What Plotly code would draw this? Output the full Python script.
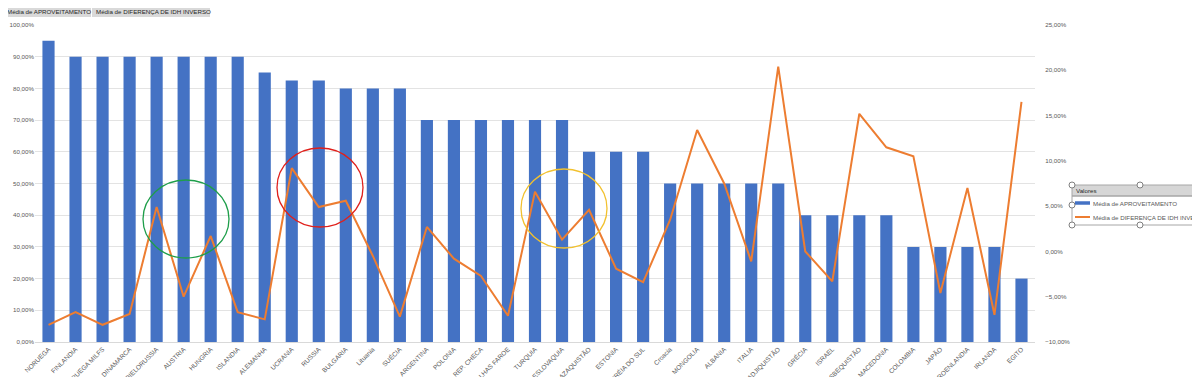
import plotly.graph_objects as go

categories = ["NORUEGA", "FINLANDIA", "RUEGA MILFS", "DINAMARCA", "BIELORUSSIA", "AUSTRIA",
              "HUNGRIA", "ISLANDIA", "ALEMANHA", "UCRANIA", "RUSSIA", "BULGARIA", "Lituania",
              "SUÉCIA", "ARGENTINA", "POLONIA", "REP. CHECA", "LHAS FAROE", "TURQUIA",
              "ESLOVAQUIA", "AZAQUISTÃO", "ESTONIA", "ORÉIA DO SUL", "Croacia", "MONGOLIA",
              "ALBANIA", "ITALIA", "ADJIQUISTÃO", "GRÉCIA", "ISRAEL", "SBEQUISTÃO",
              "MACEDONIA", "COLOMBIA", "JAPÃO", "ROENLANDIA", "IRLANDA", "EGITO"]

aproveitamento = [0.95, 0.90, 0.90, 0.90, 0.90, 0.90, 0.90, 0.90, 0.85, 0.825, 0.825, 0.80, 0.80,
                  0.80, 0.70, 0.70, 0.70, 0.70, 0.70, 0.70, 0.60, 0.60, 0.60, 0.50, 0.50,
                  0.50, 0.50, 0.50, 0.40, 0.40, 0.40, 0.40, 0.30, 0.30, 0.30, 0.30, 0.20]

dif_idh_inverso = [-0.081, -0.067, -0.081, -0.069, 0.049, -0.050, 0.017, -0.067, -0.075, 0.092,
                   0.049, 0.056, -0.005, -0.072, 0.027, -0.008, -0.027, -0.071, 0.066, 0.013,
                   0.046, -0.019, -0.034, 0.035, 0.134, 0.075, -0.011, 0.204, 0.000, -0.033,
                   0.152, 0.115, 0.105, -0.046, 0.070, -0.070, 0.165]

series_names = ["Média de APROVEITAMENTO", "Média de DIFERENÇA DE IDH INVERSO"]
legend_title = "Valores"

left_ticks = [i / 10 for i in range(11)]
right_ticks = [-0.10, -0.05, 0.0, 0.05, 0.10, 0.15, 0.20, 0.25]

# page body has an 8px margin: work in window pixels, figure is offset by OFF
OFF = 8
W, H = 1200 - OFF, 377 - OFF
L, R, T, B = 35, 1035, 25, 342   # plot area in window pixels


def px(x):
    return (x - L) / (R - L)


def py(y):
    return (B - y) / (B - T)


FONT = "Liberation Sans"
GREY_TXT = "#595959"
BLUE = "#4472C4"
ORANGE = "#ED7D31"
SMALL = 6.2

fig = go.Figure()
fig.add_trace(go.Bar(x=categories, y=aproveitamento, name=series_names[0],
                     marker=dict(color=BLUE, line=dict(width=0)), yaxis="y"))
fig.add_trace(go.Scatter(x=categories, y=dif_idh_inverso, name=series_names[1],
                         mode="lines", line=dict(color=ORANGE, width=2), yaxis="y2"))

shapes = []
# highlight ellipses
for (x0, y0, x1, y1, c) in [(143, 180, 229, 258, "#1E9E4A"),
                            (277, 148, 363, 227, "#E0201B"),
                            (521, 169, 607, 248, "#F2C12E")]:
    shapes.append(dict(type="circle", xref="paper", yref="paper",
                       x0=px(x0), x1=px(x1), y0=py(y1), y1=py(y0),
                       line=dict(color=c, width=1.3)))

# legend box (drawn by hand)
shapes.append(dict(type="rect", xref="paper", yref="paper",
                   x0=px(1072), x1=px(1210), y0=py(196), y1=py(185),
                   fillcolor="#D6D6D6", line=dict(color="#A6A6A6", width=1)))
shapes.append(dict(type="rect", xref="paper", yref="paper",
                   x0=px(1072), x1=px(1210), y0=py(225), y1=py(196),
                   fillcolor="rgba(0,0,0,0)", line=dict(color="#A6A6A6", width=1)))
shapes.append(dict(type="line", xref="paper", yref="paper",
                   x0=px(1075), x1=px(1090), y0=py(203), y1=py(203),
                   line=dict(color=BLUE, width=3.5)))
shapes.append(dict(type="line", xref="paper", yref="paper",
                   x0=px(1075), x1=px(1090), y0=py(217), y1=py(217),
                   line=dict(color=ORANGE, width=2)))
# selection handles
for (hx, hy) in [(1072, 185), (1140, 185), (1072, 205), (1072, 225), (1140, 225), (2, 210), (600, 1)]:
    shapes.append(dict(type="circle", xref="paper", yref="paper",
                       x0=px(hx - 3), x1=px(hx + 3), y0=py(hy + 3), y1=py(hy - 3),
                       fillcolor="white", line=dict(color="#7F7F7F", width=1)))
# right border line
shapes.append(dict(type="line", xref="paper", yref="paper",
                   x0=px(1197), x1=px(1197), y0=py(0), y1=py(377),
                   line=dict(color="#C8C8C8", width=2)))
# top-left field buttons
shapes.append(dict(type="rect", xref="paper", yref="paper",
                   x0=px(3), x1=px(91), y0=py(17), y1=py(6),
                   fillcolor="#D9D9D9", line=dict(width=0)))
shapes.append(dict(type="rect", xref="paper", yref="paper",
                   x0=px(92), x1=px(210), y0=py(17), y1=py(6),
                   fillcolor="#D9D9D9", line=dict(width=0)))

annotations = [
    dict(text=series_names[0], xref="paper", yref="paper", x=px(5), y=py(11.5),
         xanchor="left", yanchor="middle", showarrow=False,
         font=dict(family=FONT, size=SMALL, color="#262626")),
    dict(text=series_names[1], xref="paper", yref="paper",
         x=px(94), y=py(11.5), xanchor="left", yanchor="middle", showarrow=False,
         font=dict(family=FONT, size=SMALL, color="#262626")),
    dict(text=legend_title, xref="paper", yref="paper", x=px(1074), y=py(190.5),
         xanchor="left", yanchor="middle", showarrow=False,
         font=dict(family=FONT, size=SMALL, color="#262626")),
    dict(text=series_names[0], xref="paper", yref="paper", x=px(1091), y=py(203),
         xanchor="left", yanchor="middle", showarrow=False,
         font=dict(family=FONT, size=SMALL, color=GREY_TXT)),
    dict(text=series_names[1], xref="paper", yref="paper", x=px(1091), y=py(217),
         xanchor="left", yanchor="middle", showarrow=False,
         font=dict(family=FONT, size=SMALL, color=GREY_TXT)),
]

fig.update_layout(
    width=W, height=H,
    margin=dict(l=L - OFF, r=W - (R - OFF), t=T - OFF, b=H - (B - OFF), autoexpand=False),
    paper_bgcolor="white", plot_bgcolor="white",
    separators=",.",
    bargap=0.55,
    showlegend=False,
    xaxis=dict(type="category", range=[-0.5, len(categories) - 0.5], tickangle=-45,
               tickfont=dict(family=FONT, size=6.5, color=GREY_TXT),
               showline=True, linecolor="#D9D9D9", linewidth=1, ticks="",
               showgrid=False, automargin=False),
    yaxis=dict(range=[0, 1.0], tickvals=left_ticks, tickformat=".2%",
               tickfont=dict(family=FONT, size=SMALL, color=GREY_TXT),
               showgrid=True, gridcolor="#E3E3E3", gridwidth=1, zeroline=False,
               showline=False, automargin=False, ticks=""),
    yaxis2=dict(range=[-0.10, 0.25], tickvals=right_ticks, tickformat=".2%",
                overlaying="y", side="right",
                tickfont=dict(family=FONT, size=SMALL, color=GREY_TXT),
                showgrid=False, zeroline=False, showline=False, automargin=False,
                ticks="outside", ticklen=8, tickcolor="rgba(0,0,0,0)"),
    shapes=shapes,
    annotations=annotations,
)

fig.write_html("out.html")
